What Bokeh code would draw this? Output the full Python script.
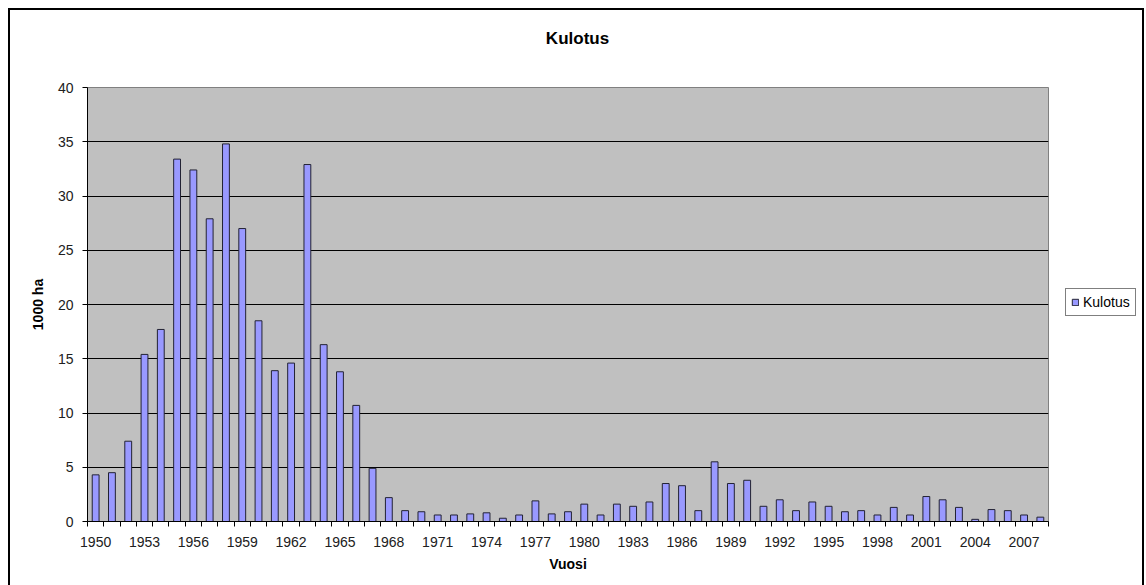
from bokeh.plotting import figure
from bokeh.layouts import row, column
from bokeh.models import (ColumnDataSource, FixedTicker, Legend, LegendItem,
                          Range1d)
from bokeh.core.properties import value
from bokeh.embed import file_html
from bokeh.resources import INLINE

# Annual prescribed burning area (Kulotus), thousands of hectares
years = list(range(1950, 2009))
kulotus = [4.3, 4.5, 7.4, 15.4, 17.7, 33.4, 32.4, 27.9, 34.8, 27.0,
           18.5, 13.9, 14.6, 32.9, 16.3, 13.8, 10.7, 4.9, 2.2, 1.0,
           0.9, 0.6, 0.6, 0.7, 0.8, 0.3, 0.6, 1.9, 0.7, 0.9,
           1.6, 0.6, 1.6, 1.4, 1.8, 3.5, 3.3, 1.0, 5.5, 3.5,
           3.8, 1.4, 2.0, 1.0, 1.8, 1.4, 0.9, 1.0, 0.6, 1.3,
           0.6, 2.3, 2.0, 1.3, 0.2, 1.1, 1.0, 0.6, 0.4]
label_years = list(range(1950, 2009, 3))
y_ticks = list(range(0, 41, 5))
series_name = "Kulotus"
chart_title = "Kulotus"

FONT = "Liberation Sans"
BAR_FILL = "#9999FF"
BAR_LINE = "#222233"

src = ColumnDataSource(dict(year=years, value=kulotus))

# title strip across the top of the chart area
HEAD_W, HEAD_H = 1132, 60
head = figure(width=HEAD_W, height=HEAD_H, output_backend="svg",
              toolbar_location=None, x_range=Range1d(0, HEAD_W),
              y_range=Range1d(0, HEAD_H), min_border=0,
              x_axis_location=None, y_axis_location=None,
              outline_line_color=None)
head.grid.visible = False
head.border_fill_color = "white"
head.background_fill_color = "white"
head.text(x=[567], y=[HEAD_H - 28], text=[chart_title],
          text_font=value(FONT), text_font_size="17px",
          text_font_style="bold", text_color="black",
          text_align="center", text_baseline="middle")

# main bar chart
p = figure(width=1040, height=522, output_backend="svg", toolbar_location=None,
           x_range=Range1d(1949.5, 2008.5), y_range=Range1d(0, 40),
           min_border_left=77, min_border_right=2, min_border_top=17,
           min_border_bottom=71)

p.background_fill_color = "#C0C0C0"
p.border_fill_color = "white"
p.outline_line_color = "#808080"
p.outline_line_width = 1

bars = p.vbar(x="year", top="value", width=0.42, source=src,
              fill_color=BAR_FILL, line_color=BAR_LINE, line_width=1)

# x axis: labels every third year, tick marks between categories
p.xaxis.ticker = FixedTicker(ticks=label_years,
                             minor_ticks=[y - 0.5 for y in years] + [2008.5])
p.xaxis.major_tick_line_color = None
p.xaxis.minor_tick_in = 0
p.xaxis.minor_tick_out = 5
p.xaxis.minor_tick_line_color = "black"
p.xaxis.axis_line_color = "black"
p.xaxis.major_label_standoff = 9
p.xaxis.axis_label = "Vuosi"
p.xaxis.axis_label_standoff = 6

# y axis
p.yaxis.ticker = FixedTicker(ticks=y_ticks)
p.yaxis.major_tick_in = 0
p.yaxis.major_tick_out = 5
p.yaxis.minor_tick_line_color = None
p.yaxis.axis_line_color = "black"
p.yaxis.major_tick_line_color = "black"
p.yaxis.major_label_standoff = 9
p.yaxis.axis_label = "1000 ha"
p.yaxis.axis_label_standoff = 9

for ax in (p.xaxis, p.yaxis):
    ax.major_label_text_font = FONT
    ax.major_label_text_font_size = "14px"
    ax.major_label_text_color = "#202020"
    ax.axis_label_text_font = FONT
    ax.axis_label_text_font_size = "14px"
    ax.axis_label_text_font_style = "bold"
    ax.axis_label_text_color = "black"

p.xgrid.grid_line_color = None
p.ygrid.ticker = FixedTicker(ticks=y_ticks)
p.ygrid.grid_line_color = "black"
p.ygrid.grid_line_width = 1

# legend strip to the right of the plot area
q = figure(width=92, height=522, output_backend="svg", toolbar_location=None,
           x_range=Range1d(0, 1), y_range=Range1d(0, 1),
           min_border=0, x_axis_location=None, y_axis_location=None,
           outline_line_color=None)
q.grid.visible = False
q.border_fill_color = "white"
q.background_fill_color = "white"
# same series, outside this strip's ranges: only its legend swatch shows
swatch = q.vbar(x="year", top="value", width=0.42, source=src,
                fill_color=BAR_FILL, line_color=BAR_LINE, line_width=1)

legend = Legend(items=[LegendItem(label=series_name, renderers=[swatch])],
                location=(15, 205), orientation="vertical",
                glyph_width=8, glyph_height=8, label_standoff=4,
                padding=5, spacing=0, margin=0,
                border_line_color="black", border_line_width=1,
                background_fill_color="white", background_fill_alpha=1.0,
                label_text_font=FONT, label_text_font_size="14px",
                label_text_color="black")
q.add_layout(legend, "center")

# whole chart framed by a 2px black border
layout = column(head, row(p, q, spacing=0), margin=(8, 0, 0, 8), spacing=0,
                styles={"border": "2px solid black"})

open("out.html", "w").write(file_html(layout, INLINE))
